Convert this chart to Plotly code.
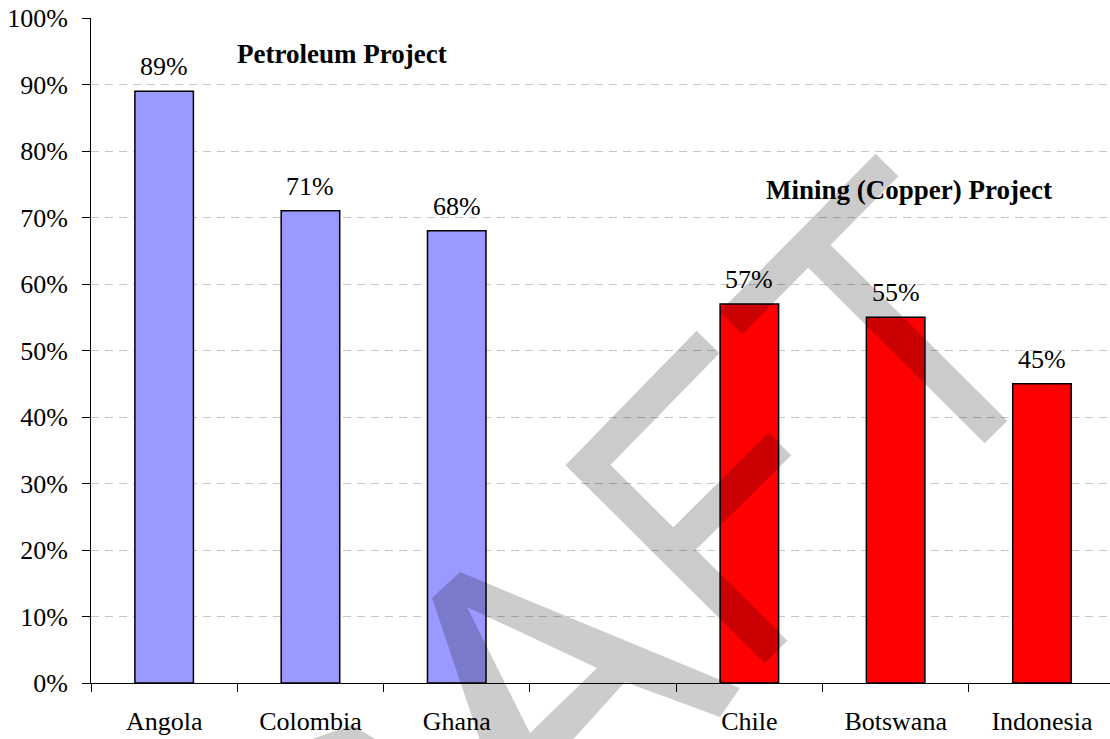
import plotly.graph_objects as go

# ---- data ----
categories = ["Angola", "Colombia", "Ghana", " ", "Chile", "Botswana", "Indonesia"]
values = [89, 71, 68, None, 57, 55, 45]
bar_colors = ["#9999FF", "#9999FF", "#9999FF", "#9999FF", "#FF0000", "#FF0000", "#FF0000"]
y_ticks = list(range(0, 101, 10))
y_tick_labels = [f"{v}%" for v in y_ticks]
group_labels = ["Petroleum Project", "Mining (Copper) Project"]

# ---- layout geometry (page pixels; body margin removed by post_script) ----
W, H = 1110, 739
PLOT_L, PLOT_T, PLOT_B, PLOT_R = 91, 18, 683, 1110   # plot area in page pixels
ML, MT = PLOT_L, PLOT_T
MB = H - PLOT_B
MR = W - PLOT_R
PW = PLOT_R - PLOT_L
PH = PLOT_B - PLOT_T
SLOT = 146.3

FONT = "Liberation Serif, Times New Roman, serif"


def pp(px, py):
    """page pixel -> paper coordinates"""
    return (px - PLOT_L) / PW, (PLOT_B - py) / PH


def path(pts, close=True):
    s = ""
    for i, (x, y) in enumerate(pts):
        X, Y = pp(x, y)
        s += ("M" if i == 0 else "L") + f"{X:.5f},{Y:.5f}"
    return s + ("Z" if close else "")


fig = go.Figure()
fig.add_trace(go.Bar(
    x=categories, y=values,
    marker=dict(color=bar_colors, line=dict(color="black", width=1.5)),
    showlegend=False, hoverinfo="skip",
))

annotations = []
for c, v in zip(categories, values):
    if v is None:
        continue
    annotations.append(dict(x=c, y=v, xref="x", yref="y", text=f"{v}%",
                            showarrow=False, yanchor="bottom", yshift=8,
                            font=dict(family=FONT, size=26, color="black")))

gx, gy = pp(342, 54)
annotations.append(dict(x=gx, y=gy, xref="paper", yref="paper", text=f"<b>{group_labels[0]}</b>",
                        showarrow=False, xanchor="center", yanchor="middle",
                        font=dict(family=FONT, size=27, color="black")))
gx, gy = pp(909, 190)
annotations.append(dict(x=gx, y=gy, xref="paper", yref="paper", text=f"<b>{group_labels[1]}</b>",
                        showarrow=False, xanchor="center", yanchor="middle",
                        font=dict(family=FONT, size=27, color="black")))

# ---- DRAFT watermark (decoration) ----
shapes = []
a_path = path([(432, 598), (460, 572), (740, 688), (720, 717), (625, 682), (550, 765), (490, 770), (432, 598)]) \
    + path([(467, 607), (530, 733), (597, 668)])
shapes.append(dict(type="path", xref="paper", yref="paper", path=a_path,
                   fillcolor="black", opacity=0.2, line=dict(width=0), layer="above"))
shapes.append(dict(type="path", xref="paper", yref="paper",
                   path=path([(295, 745), (352, 725), (385, 745)]),
                   fillcolor="black", opacity=0.2, line=dict(width=0), layer="above"))
f_path = path([(708, 342), (588, 465), (776, 652)], close=False) + path([(673, 550), (780, 444)], close=False)
shapes.append(dict(type="path", xref="paper", yref="paper", path=f_path,
                   line=dict(color="black", width=32), opacity=0.2, layer="above"))
t_path = path([(731, 323), (887, 165)], close=False) + path([(808, 245), (996, 432)], close=False)
shapes.append(dict(type="path", xref="paper", yref="paper", path=t_path,
                   line=dict(color="black", width=32), opacity=0.2, layer="above"))

fig.update_layout(
    width=W, height=H,
    margin=dict(l=ML, r=MR, t=MT, b=MB, pad=0, autoexpand=False),
    paper_bgcolor="white", plot_bgcolor="white",
    bargap=0.6,
    font=dict(family=FONT, size=26, color="black"),
    annotations=annotations,
    shapes=shapes,
    xaxis=dict(
        type="category", range=[-0.5, -0.5 + PW / SLOT],
        showline=True, linecolor="black", linewidth=1,
        ticks="outside", ticklen=8, tickcolor="black", tickwidth=1,
        tickson="boundaries", showgrid=False, zeroline=False,
        tickfont=dict(family=FONT, size=26, color="black"),
        ticklabelstandoff=15, automargin=False,
    ),
    yaxis=dict(
        range=[0, 100], tickvals=y_ticks, ticktext=y_tick_labels,
        showline=True, linecolor="black", linewidth=1,
        ticks="outside", ticklen=8, tickcolor="black", tickwidth=1,
        showgrid=True, gridcolor="#C8C8C8", gridwidth=1, griddash="8px,6px",
        zeroline=False, ticklabeloverflow="allow", automargin=False,
        tickfont=dict(family=FONT, size=26, color="black"),
        ticklabelstandoff=9,
    ),
)

fig.write_html(
    "out.html",
    config={"displayModeBar": False, "staticPlot": True},
    post_script="document.body.style.margin='0';document.body.style.overflow='hidden';",
)
